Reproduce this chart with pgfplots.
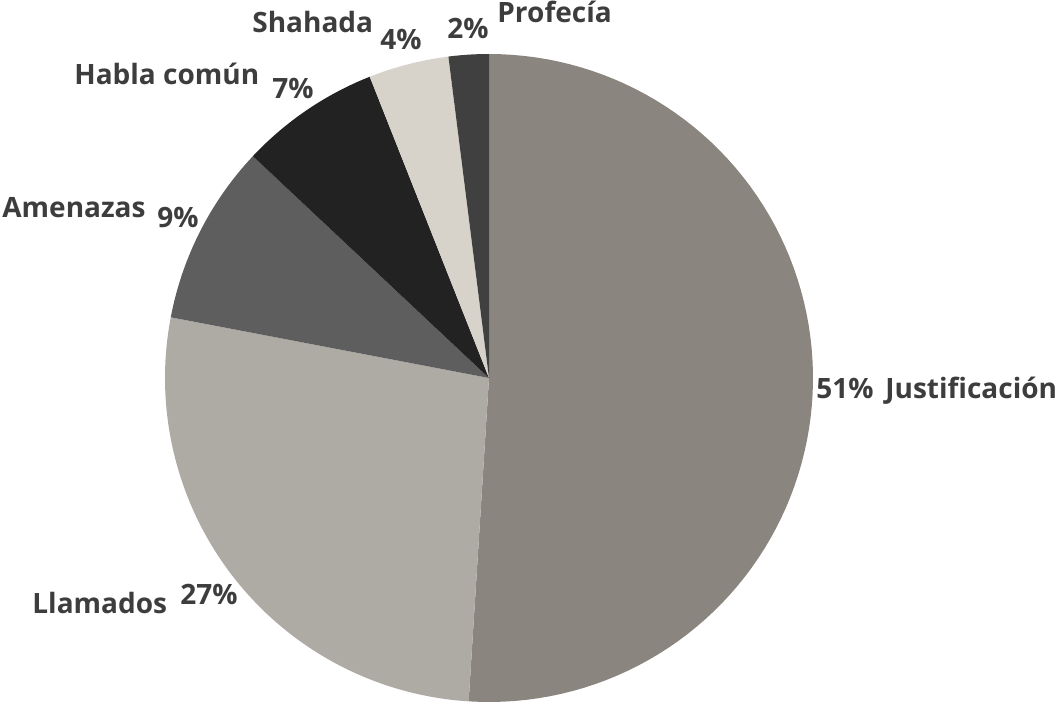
\documentclass[border=0pt]{standalone}
\usepackage{fontspec}
\setmainfont{Open Sans}
\usepackage{pgfplots}
\usepackage{pgfplotstable}
\pgfplotsset{compat=1.18}

\definecolor{slice0}{HTML}{8A857F}
\definecolor{slice1}{HTML}{AEAAA4}
\definecolor{slice2}{HTML}{5E5E5E}
\definecolor{slice3}{HTML}{222222}
\definecolor{slice4}{HTML}{D8D3CA}
\definecolor{slice5}{HTML}{404040}
\definecolor{labeltext}{HTML}{3D3D3D}

\tikzset{lbl/.style={anchor=base west, inner sep=0pt, text=labeltext,
  font=\fontsize{14}{16}\selectfont\bfseries}}

% shares in percent, clockwise from 12 o'clock
\pgfplotstableread{
label pct
Justificacion 51
Llamados 27
Amenazas 9
Habla 7
Shahada 4
Profecia 2
}\piedata

\begin{document}
\begin{tikzpicture}
  \begin{axis}[
    width=529pt, height=351.5pt, scale only axis,
    xmin=0, xmax=1058, ymin=0, ymax=703,
    hide axis, clip=false,
  ]
    \pgfmathsetmacro{\start}{90}
    \pgfplotsforeachungrouped \i in {0,...,5}{
      \pgfplotstablegetelem{\i}{pct}\of\piedata
      \pgfmathsetmacro{\stop}{\start-3.6*\pgfplotsretval}
      \edef\temp{\noexpand\addplot[fill=slice\i, draw=none, domain=\stop:\start, samples=90, variable=\noexpand\t]
        ({489+324*cos(\noexpand\t)},{325+324*sin(\noexpand\t)}) -- (axis cs:489,325) -- cycle;}
      \temp
      \global\let\start\stop
    }

    % labels
    \node[lbl] at (axis cs:497,680) {Profecía};
    \node[lbl] at (axis cs:447,664) {2\%};
    \node[lbl] at (axis cs:380,653) {4\%};
    \node[lbl] at (axis cs:252,670) {Shahada};
    \node[lbl] at (axis cs:74,618) {Habla común};
    \node[lbl] at (axis cs:272,604) {7\%};
    \node[lbl] at (axis cs:2,485) {Amenazas};
    \node[lbl] at (axis cs:157,475) {9\%};
    \node[lbl] at (axis cs:816,305) {51\%};
    \node[lbl] at (axis cs:885,305) {Justificación};
    \node[lbl] at (axis cs:32,90) {Llamados};
    \node[lbl] at (axis cs:180,99) {27\%};
  \end{axis}
  \pgfresetboundingbox
  \path (0,0) rectangle (529pt,351.5pt);
\end{tikzpicture}
\end{document}
